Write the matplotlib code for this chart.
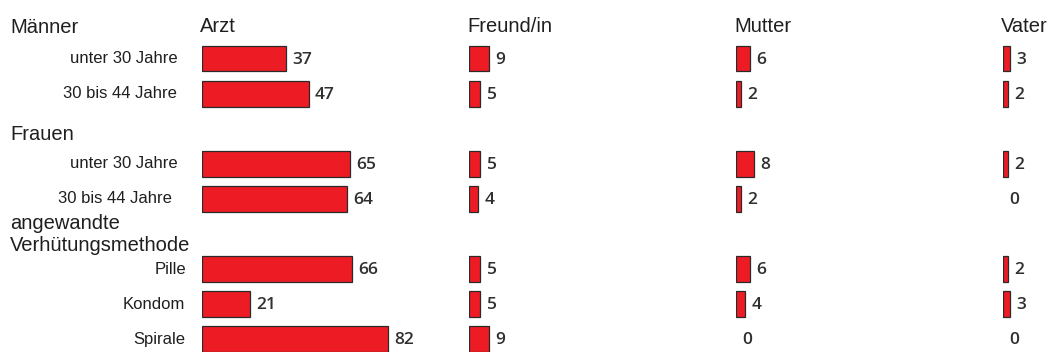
import matplotlib
matplotlib.use("Agg")
import matplotlib.pyplot as plt

# Daten
panels = ["Arzt", "Freund/in", "Mutter", "Vater"]
rows = ["unter 30 Jahre", "30 bis 44 Jahre",
        "unter 30 Jahre", "30 bis 44 Jahre",
        "Pille", "Kondom", "Spirale"]
arzt = [37, 47, 65, 64, 66, 21, 82]
freund = [9, 5, 5, 4, 5, 5, 9]
mutter = [6, 2, 8, 2, 6, 4, 0]
vater = [3, 2, 2, 0, 2, 3, 0]
values = [arzt, freund, mutter, vater]

# Layout (Pixel)
W, H = 1053, 352
row_pos = [0, 1, 3, 4, 6, 7, 8]
row_step = 35.1
row0 = 58.5
panel_x = [202, 469, 736, 1003]
px_per_unit = 2.27
label_right = [178, 177, 178, 172, 186, 185, 185]
groups = [("Männer", 33), ("Frauen", 140), ("angewandte", 229), ("Verhütungsmethode", 251)]

plt.rcParams['font.family'] = ['Liberation Sans', 'DejaVu Sans']
txt = '#1f1f1f'
red = '#ED1C24'

fig = plt.figure(figsize=(W / 100, H / 100), dpi=100)

ytop = (0 - row0) / row_step
ybot = (H - row0) / row_step
ax_w = 250

for name, vals, x0 in zip(panels, values, panel_x):
    ax = fig.add_axes([x0 / W, 0, ax_w / W, 1])
    ax.set_xlim(0, ax_w / px_per_unit)
    ax.set_ylim(ybot, ytop)
    ax.axis('off')
    lw = [0.9 if v > 0 else 0 for v in vals]
    ax.barh(row_pos, vals, height=0.74, color=red, edgecolor='#2a2a2a', linewidth=lw)
    for y, v in zip(row_pos, vals):
        ax.annotate(str(v), (v, y), xytext=(4.5, -0.8), textcoords='offset points',
                    ha='left', va='center', fontsize=12.5, fontweight='semibold',
                    color='#303030', family=['Open Sans', 'DejaVu Sans'])
    fig.text(x0 / W - 2 / W, 1 - 32 / H, name, fontsize=14.5, color=txt, ha='left', va='baseline')

for lab, y, xr in zip(rows, row_pos, label_right):
    yp = row0 + y * row_step
    fig.text(xr / W, 1 - yp / H, lab, fontsize=12, color=txt, ha='right', va='center')

for g, yb in groups:
    fig.text(10 / W, 1 - yb / H, g, fontsize=14.5, color=txt, ha='left', va='baseline')

plt.savefig('out.png', dpi=100)
